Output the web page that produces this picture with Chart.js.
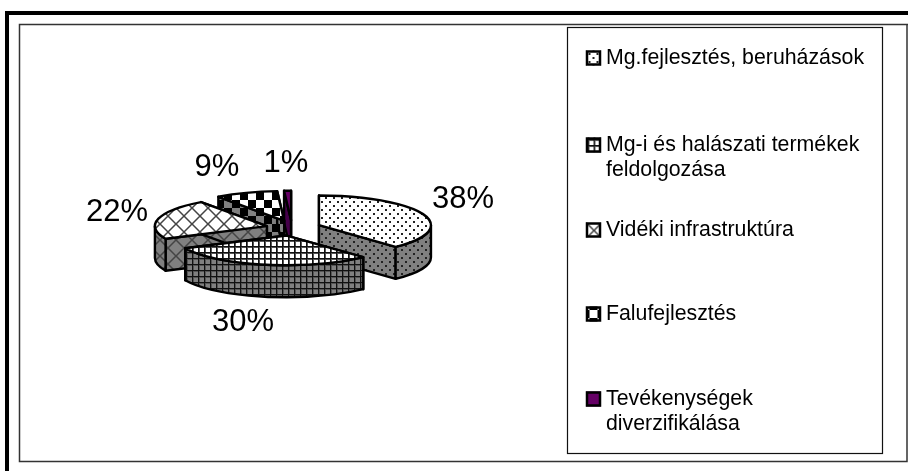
<!DOCTYPE html>
<html>
<head>
<meta charset="utf-8">
<style>html,body{margin:0;padding:0;background:#fff}canvas{display:block}</style>
<script src="https://cdn.jsdelivr.net/npm/chart.js@4"></script>
</head>
<body>
<canvas id="c" width="908" height="471"></canvas>
<script>
const categories = ["Mg.fejlesztés, beruházások","Mg-i és halászati termékek feldolgozása","Vidéki infrastruktúra","Falufejlesztés","Tevékenységek diverzifikálása"];
const shares = [38,30,22,9,1];
const legendLines = [["Mg.fejlesztés, beruházások"],["Mg-i és halászati termékek","feldolgozása"],["Vidéki infrastruktúra"],["Falufejlesztés"],["Tevékenységek","diverzifikálása"]];

function tile(w,h,bg,draw){
  const t=document.createElement('canvas');t.width=w;t.height=h;
  const g=t.getContext('2d');g.fillStyle=bg;g.fillRect(0,0,w,h);draw(g,w,h);
  return g.createPattern(t,'repeat');
}
const WALL='#808080';
const painters=[
  bg=>tile(8,8,bg,g=>{g.fillStyle='#222';g.fillRect(1,1,2,2);g.fillRect(5,5,2,2);}),
  bg=>tile(6,6,bg,g=>{g.fillStyle='#555';g.fillRect(0,0,6,2);g.fillRect(0,0,2,6);g.fillStyle='#111';g.fillRect(0,0,6,1);g.fillRect(0,0,1,6);}),
  bg=>tile(16,16,bg,g=>{g.strokeStyle='#444';g.lineWidth=1.5;g.beginPath();g.moveTo(-2,-2);g.lineTo(18,18);g.moveTo(18,-2);g.lineTo(-2,18);g.stroke();}),
  bg=>tile(16,16,bg,g=>{g.fillStyle='#000';g.fillRect(0,0,8,8);g.fillRect(8,8,8,8);}),
  bg=>tile(4,4,bg==='#ffffff'?'#660066':'#45004a',()=>{})
];
const tops=painters.map(p=>p('#ffffff'));
const walls=painters.map(p=>p(WALL));

const pie3d={
  id:'pie3d',
  beforeDraw(chart){
    const c=chart.ctx;
    c.save();
    c.fillStyle='#fff';c.fillRect(0,0,908,471);
    c.fillStyle='#000';c.fillRect(5,11,903,4);c.fillRect(5,11,4,460);
    c.strokeStyle='#333';c.lineWidth=1.5;
    c.beginPath();c.moveTo(908,24.5);c.lineTo(19.5,24.5);c.lineTo(19.5,461.5);c.lineTo(907,461.5);c.lineTo(907,24.5);c.stroke();
    c.strokeStyle='#111';c.lineWidth=1.2;c.strokeRect(567.5,27.5,315,426);
    c.restore();
  },
  beforeDatasetsDraw(chart,args,o){
    const c=chart.ctx, arcs=chart.getDatasetMeta(0).data;
    c.save();
    c.lineJoin='round';c.lineWidth=o.line;c.strokeStyle='#000';
    const drawOrder=[4,3,2,0,1];
    drawOrder.forEach(i=>{
      const a=arcs[i];
      const mid=(a.startAngle+a.endAngle)/2;
      const cx=a.x+o.shiftX[i]+Math.cos(mid)*o.explode, cy=a.y+Math.sin(mid)*o.explode*o.tilt;
      const rx=a.outerRadius, ry=rx*o.tilt;
      const px=t=>cx+Math.cos(t)*rx, py=t=>cy+Math.sin(t)*ry;
      const quad=t=>{
        c.beginPath();c.moveTo(cx,cy);c.lineTo(px(t),py(t));c.lineTo(px(t),py(t)+o.depth);c.lineTo(cx,cy+o.depth);c.closePath();
        c.fillStyle=walls[i];c.fill();c.stroke();
      };
      quad(a.startAngle);quad(a.endAngle);
      for(let k=-1;k<=1;k++){
        const s=Math.max(a.startAngle,k*2*Math.PI),e=Math.min(a.endAngle,k*2*Math.PI+Math.PI);
        if(e>s){
          c.beginPath();c.ellipse(cx,cy,rx,ry,0,s,e);c.ellipse(cx,cy+o.depth,rx,ry,0,e,s,true);c.closePath();
          c.fillStyle=walls[i];c.fill();c.stroke();
        }
      }
      c.beginPath();c.moveTo(cx,cy);c.ellipse(cx,cy,rx,ry,0,a.startAngle,a.endAngle);c.closePath();
      c.fillStyle=tops[i];c.fill();c.stroke();
    });
    c.restore();
    return false;
  },
  afterDraw(chart,args,o){
    const c=chart.ctx;
    c.save();
    c.fillStyle='#000';c.textBaseline='middle';
    c.font=o.labelFont;c.textAlign='center';
    shares.forEach((v,i)=>c.fillText(v+'%',o.labelPos[i][0],o.labelPos[i][1]));
    c.font=o.legendFont;c.textAlign='left';
    legendLines.forEach((lines,i)=>{
      const y=o.legendY[i];
      lines.forEach((t,j)=>{c.fillStyle='#000';c.fillText(t,o.legendX,y+j*o.legendLead);});
      const [sx,sy]=o.swatchShift[i];
      c.save();c.translate(586,y-7.5);
      c.save();c.translate(sx,sy);
      c.fillStyle=painters[i]('#ffffff');
      c.fillRect(-sx,-sy,15,15);
      c.restore();
      c.strokeStyle='#000';c.lineWidth=2.5;c.strokeRect(1,1,13,13);
      c.restore();
    });
    c.restore();
  }
};

new Chart(document.getElementById('c'),{
  type:'pie',
  data:{labels:categories,datasets:[{data:shares,borderWidth:0}]},
  plugins:[pie3d],
  options:{
    responsive:false,animation:false,
    layout:{padding:{left:180,right:504,top:116,bottom:131}},
    radius:112,
    plugins:{
      legend:{display:false},tooltip:{enabled:false},
      pie3d:{
        explode:29,tilt:0.265,depth:32,line:2.4,
        shiftX:[0,0,3,2,0],
        swatchShift:[[1.5,1.5],[1.5,1.5],[0,0],[3.5,11.5],[0,0]],
        labelFont:'31px "Liberation Sans"',
        labelPos:[[463,199],[243,322],[117,212],[217,167],[286,163]],
        legendFont:'21.3px "Liberation Sans"',
        legendX:606,legendLead:25,
        legendY:[58,145,230,314,399]
      }
    }
  }
});
</script>
</body>
</html>
